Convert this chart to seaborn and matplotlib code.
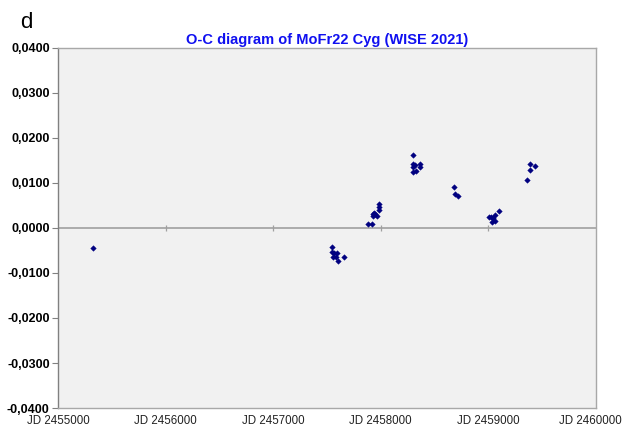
import numpy as np
import pandas as pd
import matplotlib
matplotlib.use("Agg")
import matplotlib.pyplot as plt
import matplotlib.ticker as mticker
import seaborn as sns

# O-C values (JD, days)
jd = [2455325,
      2457544, 2457549, 2457568, 2457590, 2457559, 2457581, 2457600, 2457661,
      2457884, 2457915, 2457925, 2457937, 2457949, 2457962, 2457930, 2457981, 2457981, 2457981,
      2458297, 2458302, 2458318, 2458364, 2458364, 2458302, 2458324, 2458297,
      2458683, 2458690, 2458721,
      2459009, 2459024, 2459031, 2459061, 2459061, 2459099, 2459040,
      2459359, 2459384, 2459384, 2459430]
oc = [-0.0044,
      -0.0043, -0.0054, -0.0056, -0.0056, -0.0064, -0.0065, -0.0073, -0.0065,
      0.0008, 0.0008, 0.0031, 0.0034, 0.0031, 0.0027, 0.0027, 0.0053, 0.0047, 0.0041,
      0.0162, 0.0142, 0.0139, 0.0142, 0.0136, 0.0125, 0.0127, 0.0135,
      0.0090, 0.0076, 0.0072,
      0.0024, 0.0025, 0.0014, 0.0016, 0.0029, 0.0037, 0.0022,
      0.0106, 0.0142, 0.0129, 0.0137]

x_ticks = [2455000, 2456000, 2457000, 2458000, 2459000, 2460000]
y_ticks = [-0.04, -0.03, -0.02, -0.01, 0.0, 0.01, 0.02, 0.03, 0.04]

df = pd.DataFrame({"JD": jd, "O-C": oc})

plt.rcParams['font.family'] = ['Liberation Sans', 'DejaVu Sans']

fig = plt.figure(figsize=(6.22, 4.28), dpi=100)
ax = fig.add_axes([0.0932, 0.0467, 0.8650, 0.8413])
ax.set_facecolor("#f1f1f1")

# zero line with its own tick marks (Excel-style axis crossing)
ax.axhline(0, color="#a0a0a0", lw=1.2, zorder=1)
ax.vlines(x_ticks[1:-1], -0.0006, 0.0006, color="#a0a0a0", lw=0.9, zorder=1)

sns.scatterplot(data=df, x="JD", y="O-C", ax=ax, marker="D", s=8,
                color="#000080", edgecolor="#000080", linewidth=0.3, zorder=3)

ax.set_xlim(x_ticks[0], x_ticks[-1])
ax.set_ylim(y_ticks[0], y_ticks[-1])
ax.set_xticks(x_ticks)
labels = [f"JD {t}" for t in x_ticks]
# last label is drawn separately so it can be nudged inside the figure
ax.set_xticklabels(labels[:-1] + [""], fontsize=8.3, color="#222222")
ax.annotate(labels[-1], xy=(x_ticks[-1], 0), xycoords=ax.get_xaxis_transform(),
            xytext=(-4, -5), textcoords="offset points", ha="center", va="top",
            fontsize=8.3, color="#222222", annotation_clip=False)
ax.set_yticks(y_ticks)
ax.yaxis.set_major_formatter(mticker.FuncFormatter(
    lambda v, p: f"{v:.4f}".replace(".", ",").replace("-0,0000", "0,0000")))
for lbl in ax.get_yticklabels():
    lbl.set_fontweight("bold")
    lbl.set_fontsize(9)
ax.tick_params(axis="y", length=4, width=0.8, color="#808080", pad=2)
ax.tick_params(axis="x", length=0, pad=5)
ax.set_xlabel("")
ax.set_ylabel("")

for side in ["left", "right", "top", "bottom"]:
    ax.spines[side].set_color("#a8a8a8")
    ax.spines[side].set_linewidth(1.0)
ax.spines["left"].set_color("#808080")

ax.set_title("O-C diagram of MoFr22 Cyg (WISE 2021)", color="#1010f0",
             fontweight="bold", fontsize=10.5, pad=3)
fig.text(0.032, 0.935, "d", fontsize=16, color="black")

fig.savefig("out.png", dpi=100)
